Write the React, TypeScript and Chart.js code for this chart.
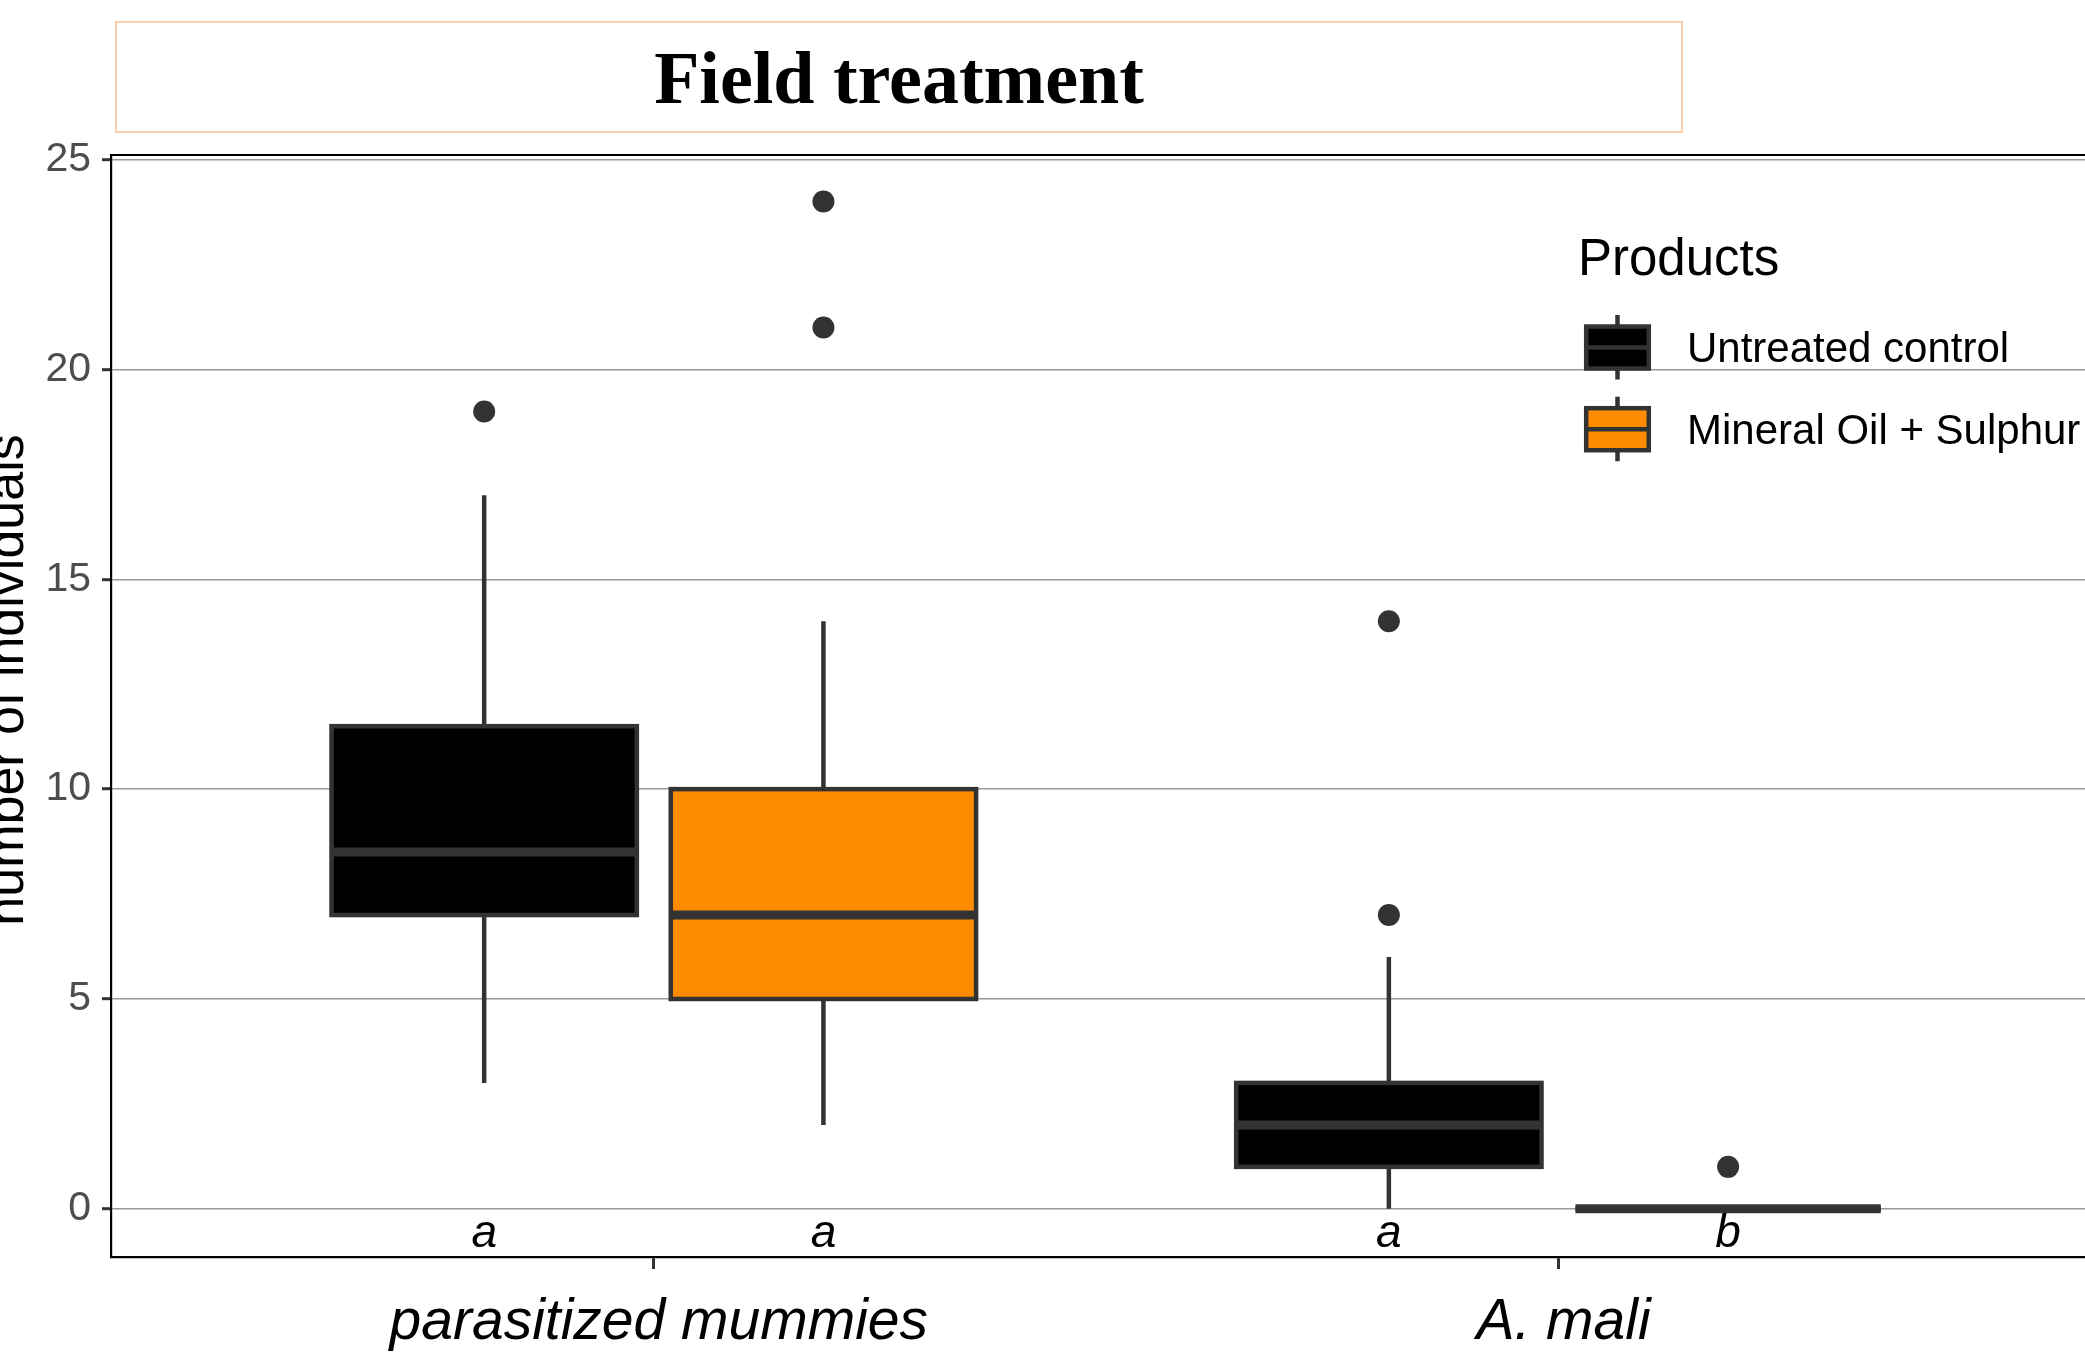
import React, { useEffect, useRef } from 'react';
import { Chart, registerables } from 'chart.js';

Chart.register(...registerables);

// ---------- data ----------
const CATEGORIES = ['parasitized mummies', 'A. mali'];
const SERIES = ['Untreated control', 'Mineral Oil + Sulphur'];
const SERIES_COLORS = ['#000000', '#FF8C00'];
// per category: [lower whisker, Q1, median, Q3, upper whisker]
const UNTREATED_STATS = [
  [3, 7, 8.5, 11.5, 17],
  [0, 1, 2, 3, 6],
];
const OIL_STATS = [
  [2, 5, 7, 10, 14],
  [0, 0, 0, 0, 0],
];
const UNTREATED_OUTLIERS = [[19], [14, 7]];
const OIL_OUTLIERS = [[24, 21], [1]];
const UNTREATED_LETTERS = ['a', 'a'];
const OIL_LETTERS = ['a', 'b'];
const Y_TICKS = [0, 5, 10, 15, 20, 25];
const LETTER_Y = -0.6;
const TITLE = 'Field treatment';
const Y_TITLE = 'number of individuals';
const LEGEND_TITLE = 'Products';

// ---------- layout / style ----------
const W = 2085;
const H = 1353;
const SANS = "'Liberation Sans', Arial, Helvetica, sans-serif";
const SERIF = "'Liberation Serif', 'Times New Roman', serif";
const LINE = '#333333';
const DODGE = 0.75;
const BOX_FRAC = 0.9;

const STATS = [UNTREATED_STATS, OIL_STATS];
const OUTLIERS = [UNTREATED_OUTLIERS, OIL_OUTLIERS];
const LETTERS = [UNTREATED_LETTERS, OIL_LETTERS];

const seriesOffset = (s: number) => (s - (SERIES.length - 1) / 2) * (DODGE / SERIES.length);

const boxPlugin = {
  id: 'boxplots',
  beforeDatasetsDraw(chart: any) {
    const { ctx, scales } = chart;
    const x = scales.x;
    const y = scales.y;
    const halfW =
      (x.getPixelForValue((DODGE / SERIES.length) * BOX_FRAC) - x.getPixelForValue(0)) / 2;
    STATS.forEach((arr, s) => {
      arr.forEach((st, g) => {
        const [lo, q1, med, q3, hi] = st;
        const cx = x.getPixelForValue(g + 1 + seriesOffset(s));
        const yLo = y.getPixelForValue(lo);
        const yQ1 = y.getPixelForValue(q1);
        const yMed = y.getPixelForValue(med);
        const yQ3 = y.getPixelForValue(q3);
        const yHi = y.getPixelForValue(hi);
        ctx.save();
        ctx.strokeStyle = LINE;
        ctx.lineCap = 'butt';
        ctx.lineWidth = 4.5;
        ctx.beginPath();
        ctx.moveTo(cx, yHi);
        ctx.lineTo(cx, yQ3);
        ctx.moveTo(cx, yQ1);
        ctx.lineTo(cx, yLo);
        ctx.stroke();
        ctx.fillStyle = SERIES_COLORS[s];
        ctx.fillRect(cx - halfW, yQ3, 2 * halfW, yQ1 - yQ3);
        ctx.strokeRect(cx - halfW, yQ3, 2 * halfW, yQ1 - yQ3);
        ctx.lineWidth = 9;
        ctx.beginPath();
        ctx.moveTo(cx - halfW, yMed);
        ctx.lineTo(cx + halfW, yMed);
        ctx.stroke();
        ctx.restore();
      });
    });
  },
  afterDatasetsDraw(chart: any) {
    const { ctx, scales } = chart;
    const x = scales.x;
    const y = scales.y;
    ctx.save();
    ctx.fillStyle = '#000000';
    ctx.font = `italic 46px ${SANS}`;
    ctx.textAlign = 'center';
    ctx.textBaseline = 'middle';
    LETTERS.forEach((arr, s) => {
      arr.forEach((letter, g) => {
        const cx = x.getPixelForValue(g + 1 + seriesOffset(s));
        ctx.fillText(letter, cx, y.getPixelForValue(LETTER_Y));
      });
    });
    ctx.restore();
  },
  afterDraw(chart: any) {
    const { ctx, chartArea } = chart;
    ctx.save();
    // top panel border
    ctx.strokeStyle = '#000000';
    ctx.lineWidth = 2.2;
    ctx.beginPath();
    ctx.moveTo(chartArea.left - 1.1, chartArea.top);
    ctx.lineTo(chartArea.right, chartArea.top);
    ctx.stroke();

    // title box + title
    ctx.strokeStyle = '#F9CDAE';
    ctx.lineWidth = 2;
    ctx.strokeRect(116, 22, 1566, 110);
    ctx.fillStyle = '#000000';
    ctx.font = `bold 74px ${SERIF}`;
    ctx.textAlign = 'center';
    ctx.textBaseline = 'alphabetic';
    ctx.fillText(TITLE, 899, 103);

    // y axis title (cut off on the left)
    ctx.save();
    ctx.translate(23, 680);
    ctx.rotate(-Math.PI / 2);
    ctx.font = `52px ${SANS}`;
    ctx.textAlign = 'center';
    ctx.fillText(Y_TITLE, 0, 0);
    ctx.restore();

    // legend
    ctx.textAlign = 'left';
    ctx.font = `51px ${SANS}`;
    ctx.fillText(LEGEND_TITLE, 1578, 275);
    const keyCx = 1617.5;
    const keyCenters = [347.5, 429.2];
    SERIES.forEach((name, s) => {
      const cy = keyCenters[s];
      ctx.strokeStyle = LINE;
      ctx.lineWidth = 4.5;
      ctx.beginPath();
      ctx.moveTo(keyCx, cy - 32.5);
      ctx.lineTo(keyCx, cy + 32);
      ctx.stroke();
      ctx.fillStyle = SERIES_COLORS[s];
      ctx.fillRect(keyCx - 31.3, cy - 21, 62.6, 42);
      ctx.strokeRect(keyCx - 31.3, cy - 21, 62.6, 42);
      ctx.beginPath();
      ctx.moveTo(keyCx - 31.3, cy);
      ctx.lineTo(keyCx + 31.3, cy);
      ctx.stroke();
      ctx.fillStyle = '#000000';
      ctx.font = `42px ${SANS}`;
      ctx.fillText(name, 1687, cy + 14.5);
    });
    ctx.restore();
  },
};

export default function App() {
  const canvasRef = useRef<HTMLCanvasElement | null>(null);

  useEffect(() => {
    if (!canvasRef.current) return;
    const datasets = SERIES.map((name, s) => ({
      label: name,
      data: OUTLIERS[s].flatMap((vals, g) =>
        vals.map((v) => ({ x: g + 1 + seriesOffset(s), y: v }))
      ),
      backgroundColor: LINE,
      borderColor: LINE,
      borderWidth: 0,
      pointRadius: 11,
      pointHoverRadius: 11,
    }));

    const chart = new Chart(canvasRef.current, {
      type: 'scatter',
      data: { datasets },
      plugins: [boxPlugin],
      options: {
        responsive: false,
        animation: false,
        layout: { autoPadding: false, padding: { top: 155, left: 0, right: 0, bottom: 0 } },
        plugins: {
          legend: { display: false },
          title: { display: false },
          tooltip: { enabled: false },
        },
        scales: {
          x: {
            type: 'linear',
            min: 0.4,
            max: 2.582,
            afterBuildTicks: (s: any) => {
              s.ticks = CATEGORIES.map((_, i) => ({ value: i + 1 }));
            },
            afterFit: (s: any) => {
              s.height = 96;
            },
            ticks: {
              callback: (_v: any, i: number) => CATEGORIES[i],
              font: { family: SANS, size: 57, style: 'italic' },
              color: '#000000',
              padding: 20,
              labelOffset: 5,
              maxRotation: 0,
              autoSkip: false,
            },
            grid: {
              drawOnChartArea: false,
              drawTicks: true,
              tickLength: 12,
              tickColor: LINE,
              tickWidth: 3,
            },
            border: { display: true, color: '#000000', width: 2.2 },
          },
          y: {
            type: 'linear',
            min: -1.148,
            max: 25.11,
            afterBuildTicks: (s: any) => {
              s.ticks = Y_TICKS.map((v) => ({ value: v }));
            },
            afterFit: (s: any) => {
              s.width = 111;
            },
            ticks: {
              font: { family: SANS, size: 41 },
              color: '#4D4D4D',
              padding: 11,
            },
            grid: {
              color: '#999999',
              lineWidth: 1.4,
              tickLength: 9,
              tickColor: LINE,
              tickWidth: 3,
            },
            border: { display: true, color: '#000000', width: 2.2 },
          },
        },
      } as any,
    });
    return () => chart.destroy();
  }, []);

  return (
    <div
      style={{
        position: 'fixed',
        left: 0,
        top: 0,
        width: W,
        height: H,
        background: '#ffffff',
        overflow: 'hidden',
      }}
    >
      <canvas ref={canvasRef} width={W} height={H} />
    </div>
  );
}
